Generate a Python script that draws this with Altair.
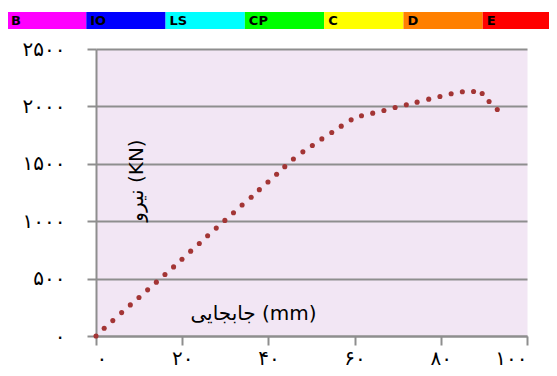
import altair as alt
import pandas as pd

# Load-displacement data
disp = [0, 1.9, 3.9, 5.95, 7.96, 9.97, 11.98, 14.0, 16.0, 18.0, 19.95, 21.96,
        23.97, 25.9, 27.9, 29.9, 31.9, 33.9, 36.0, 37.9, 39.9, 41.9, 43.8,
        45.8, 48.0, 50.2, 52.4, 54.7, 56.9, 59.2, 61.6, 64.2, 66.8, 69.4,
        72.0, 74.5, 77.2, 79.8, 82.4, 85.0, 87.6, 89.6, 91.2, 93.1]
force = [0, 67, 134, 204, 271, 335, 402, 469, 536, 602, 669, 739, 806, 873,
         940, 1007, 1074, 1141, 1208, 1275, 1342, 1409, 1475, 1542, 1604,
         1659, 1717, 1772, 1828, 1883, 1918, 1941, 1964, 1991, 2014, 2037,
         2063, 2086, 2110, 2127, 2130, 2112, 2043, 1973]

x_ticks = [0, 20, 40, 60, 80, 100]
x_tick_labels = ['۰', '۲۰', '۴۰', '۶۰', '۸۰', '۱۰۰']
y_ticks = [0, 500, 1000, 1500, 2000, 2500]
y_tick_labels = ['۰', '۵۰۰', '۱۰۰۰', '۱۵۰۰', '۲۰۰۰', '۲۵۰۰']

levels = ['B', 'IO', 'LS', 'CP', 'C', 'D', 'E']
level_colors = ['#FF00FF', '#0000FF', '#00FFFF', '#00FF00', '#FFFF00',
                '#FF8000', '#FF0000']

x_title = 'جابجایی (mm)'
y_title = 'نیرو (KN)'


def label_expr(vals, labels):
    expr = "''"
    for v, l in reversed(list(zip(vals, labels))):
        expr = f"datum.value == {v} ? '{l}' : ({expr})"
    return expr


df = pd.DataFrame({'disp': disp, 'force': force})
band_df = pd.DataFrame({
    'level': levels,
    'start': list(range(len(levels))),
    'end': list(range(1, len(levels) + 1)),
    'color': level_colors,
})

FONT = 'DejaVu Sans'
GRAY = '#8E8E8E'

points = alt.Chart(df).mark_circle(size=26, color='#A33535', opacity=1).encode(
    x=alt.X('disp:Q',
            scale=alt.Scale(domain=[0, 100], nice=False),
            axis=alt.Axis(values=x_ticks, labelExpr=label_expr(x_ticks, x_tick_labels),
                          grid=False, tickSize=9, tickWidth=2, tickColor=GRAY,
                          domainColor=GRAY, domainWidth=2,
                          labelFont=FONT, labelFontSize=20, labelColor='black',
                          labelPadding=13, labelBaseline='middle',
                          title=x_title, titleX=157, titleY=-23,
                          titleAlign='center', titleBaseline='middle',
                          titleFont=FONT, titleFontSize=20, titleFontWeight='normal',
                          titleColor='black')),
    y=alt.Y('force:Q',
            scale=alt.Scale(domain=[0, 2500], nice=False),
            axis=alt.Axis(values=y_ticks, labelExpr=label_expr(y_ticks, y_tick_labels),
                          grid=True, gridColor=GRAY, gridWidth=2,
                          tickSize=9, tickWidth=2, tickColor=GRAY,
                          domainColor=GRAY, domainWidth=2,
                          labelFont=FONT, labelFontSize=20, labelColor='black',
                          labelPadding=22,
                          title=y_title, titleX=40, titleY=131, titleAngle=270,
                          titleAlign='center', titleBaseline='middle',
                          titleFont=FONT, titleFontSize=20, titleFontWeight='normal',
                          titleColor='black')),
)

band_scale = alt.Scale(domain=[0, 7], range=[-89, 466])

bars = alt.Chart(band_df).mark_rect().encode(
    x=alt.X('start:Q', scale=band_scale, axis=None),
    x2='end:Q',
    y=alt.value(-37),
    y2=alt.value(-20),
    color=alt.Color('color:N', scale=None),
)

bar_text = alt.Chart(band_df).mark_text(
    align='left', baseline='middle', dx=4, font=FONT, fontSize=13,
    fontWeight='bold', color='black'
).encode(
    x=alt.X('start:Q', scale=band_scale, axis=None),
    y=alt.value(-28),
    text='level:N',
)

chart = alt.layer(points, bars, bar_text).resolve_scale(x='independent').properties(
    width=431,
    height=287,
    autosize=alt.AutoSizeParams(type='none'),
    padding={'left': 88, 'top': 41, 'right': 22, 'bottom': 32},
    background='white',
).configure_view(fill='#F2E6F4', stroke='transparent')

chart.save('out.html', embed_options={'renderer': 'svg', 'actions': False})
